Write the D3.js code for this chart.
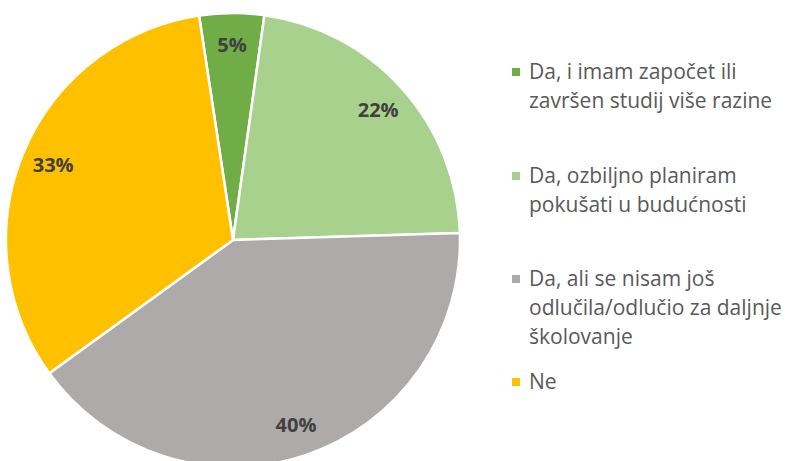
<!DOCTYPE html>
<html>
<head>
<meta charset="utf-8">
<script src="https://cdn.jsdelivr.net/npm/d3@7"></script>
<style>
  body { margin: 0; background: #fff; }
  text { font-family: "Open Sans", sans-serif; }
</style>
</head>
<body>
<div id="chart"></div>
<script>
const categories = [
    ["Da, i imam započet ili", "završen studij više razine"],
    ["Da, ozbiljno planiram", "pokušati u budućnosti"],
    ["Da, ali se nisam još", "odlučila/odlučio za daljnje", "školovanje"],
    ["Ne"]
];
const values = [4.6, 22.3, 40.5, 32.6];
const labels = ["5%", "22%", "40%", "33%"];
const colors = ["#70AD47", "#A9D18E", "#AEAAAA", "#FFC000"];

const width = 785;
const height = 461;
const cx = 233, cy = 240;
const radius = 227;

const svg = d3.select("#chart").append("svg")
    .attr("width", width)
    .attr("height", height);

const g = svg.append("g")
    .attr("transform", `translate(${cx},${cy})`);

const startAngle = -8.6 * Math.PI / 180;
const pie = d3.pie()
    .sort(null)
    .value(d => d)
    .startAngle(startAngle)
    .endAngle(startAngle + 2 * Math.PI);

const arc = d3.arc().innerRadius(0).outerRadius(radius);
const labelArc = d3.arc().innerRadius(195).outerRadius(195);

const arcs = pie(values);

g.selectAll("path")
    .data(arcs)
    .enter()
    .append("path")
    .attr("d", arc)
    .attr("fill", (d, i) => colors[i])
    .attr("stroke", "#fff")
    .attr("stroke-width", 2.5)
    .attr("stroke-linejoin", "round");

g.selectAll("text.lbl")
    .data(arcs)
    .enter()
    .append("text")
    .attr("class", "lbl")
    .attr("transform", d => `translate(${labelArc.centroid(d)})`)
    .attr("text-anchor", "middle")
    .attr("dy", "0.36em")
    .style("font-size", "20px")
    .style("font-weight", "bold")
    .style("fill", "#404040")
    .text((d, i) => labels[i]);

// legend
const legendTop = [79, 183, 286, 389];
const lineHeight = 29;

const legend = svg.append("g");
categories.forEach((lines, i) => {
    legend.append("rect")
        .attr("x", 512)
        .attr("y", legendTop[i] - 11)
        .attr("width", 8)
        .attr("height", 8)
        .attr("fill", colors[i]);
    lines.forEach((line, j) => {
        legend.append("text")
            .attr("x", 529)
            .attr("y", legendTop[i] + j * lineHeight)
            .style("font-size", "21px")
            .style("fill", "#595959")
            .text(line);
    });
});
</script>
</body>
</html>
